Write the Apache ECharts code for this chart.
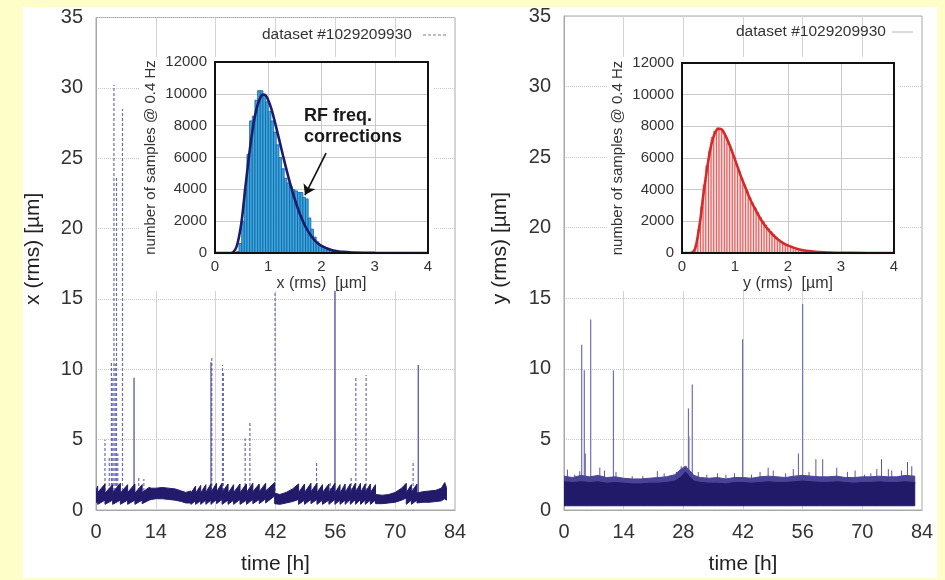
<!DOCTYPE html>
<html><head><meta charset="utf-8">
<script src="https://cdn.jsdelivr.net/npm/echarts/dist/echarts.min.js"></script>
<style>html,body{margin:0;padding:0;background:#fefec8;}#c{width:945px;height:580px;}</style>
</head><body><div id="c"></div>
<script>
// ---------- time series x (rms) : band envelope rows [time h, low, high] ----------
const xBand = [
[0.0,0.5,1.4],[0.4,0.65,1.7],[0.4,0.4,1.25],[2.1,0.7,1.85],[2.1,0.4,1.2],[3.9,0.7,1.8],[3.9,0.4,1.25],
[5.7,0.7,1.9],[5.7,0.4,1.2],[7.4,0.7,1.8],[7.4,0.4,1.25],[9.1,0.7,1.85],[9.1,0.4,1.2],[10.8,0.7,1.8],
[10.8,0.45,1.25],[12.4,0.7,1.6],[13.0,0.75,1.55],[14.0,0.8,1.55],[15.5,0.8,1.6],[17.0,0.75,1.55],[18.5,0.7,1.5],
[20.0,0.6,1.35],[21.0,0.5,1.25],[22.2,0.5,1.35],[22.2,0.4,1.2],[23.3,0.65,1.7],[23.3,0.4,1.2],[24.5,0.65,1.75],
[24.5,0.4,1.2],[25.7,0.7,1.8],[25.7,0.4,1.25],[26.9,0.7,1.85],[26.9,0.4,1.25],[28.2,0.75,1.9],[28.2,0.45,1.3],
[29.5,0.75,1.9],[29.5,0.4,1.25],[30.9,0.7,1.85],[30.9,0.4,1.2],[32.2,0.7,1.8],[32.2,0.4,1.25],[33.7,0.75,1.85],
[33.7,0.4,1.25],[35.2,0.7,1.85],[35.2,0.4,1.25],[36.7,0.75,1.9],[36.7,0.45,1.3],[38.2,0.75,1.85],[38.2,0.45,1.3],
[39.7,0.8,1.9],[39.7,0.5,1.35],[41.8,1.0,1.95],[41.8,0.45,1.2],[43.0,0.4,1.1],[44.5,0.5,1.25],[46.0,0.6,1.5],
[47.4,0.75,1.85],[47.4,0.4,1.25],[48.8,0.7,1.85],[48.8,0.4,1.25],[50.3,0.75,1.9],[50.3,0.45,1.3],[51.7,0.75,1.9],
[51.7,0.4,1.25],[53.0,0.7,1.8],[53.0,0.4,1.25],[54.5,0.7,1.85],[54.5,0.4,1.25],[55.9,0.75,1.9],[55.9,0.4,1.2],
[57.1,0.7,1.8],[57.1,0.4,1.2],[58.3,0.7,1.85],[58.3,0.4,1.25],[59.5,0.75,1.85],[59.5,0.4,1.25],[60.7,0.75,1.9],
[60.7,0.4,1.25],[61.9,0.75,1.9],[61.9,0.4,1.25],[63.0,0.7,1.85],[63.0,0.4,1.25],[64.2,0.7,1.85],[64.2,0.4,1.25],
[65.4,0.7,1.8],[65.4,0.45,1.1],[67.0,0.45,1.05],[68.5,0.5,1.1],[70.0,0.55,1.25],[71.5,0.7,1.55],[72.6,0.85,1.9],
[72.6,0.4,1.25],[73.8,0.7,1.8],[73.8,0.4,1.25],[75.1,0.7,1.85],[75.1,0.5,1.2],[76.5,0.55,1.3],[78.0,0.55,1.35],
[79.5,0.6,1.4],[80.8,0.65,1.55],[81.6,0.8,1.95],[82.0,0.7,1.6]
];
// spikes [time h, peak]
const xSpikesDotted = [[2.1,5.0],[3.1,3.7],[3.6,10.6],[3.8,9.5],[4.2,30.2],[4.5,10.4],[4.8,23.7],[5.1,4.0],[6.2,28.5],
[10.0,2.3],[11.2,2.2],[27.1,10.9],[29.6,10.3],[29.8,9.8],[34.9,5.1],[36.0,6.3],[41.9,22.0],[51.6,3.4],[54.8,2.0],
[59.7,2.4],[60.8,9.5],[63.2,9.6],[74.2,3.5]];
const xSpikesSolid = [[8.9,9.4],[26.9,10.5],[55.9,22.0],[75.4,10.3]];

// ---------- time series y (rms) ----------
const yBand = [
[0,0.3,2.0],[2,0.3,1.95],[4,0.3,2.0],[6,0.3,1.95],[8,0.3,2.0],[10,0.3,1.9],[12,0.3,1.95],[14,0.3,1.9],
[16,0.3,1.85],[18,0.3,1.85],[20,0.3,1.9],[22,0.3,1.9],[24,0.3,1.95],[26,0.3,2.05],[27.5,0.3,2.35],[28.5,0.3,2.7],
[29.5,0.3,2.35],[30.5,0.3,2.05],[32,0.3,1.95],[34,0.3,1.9],[36,0.3,1.9],[38,0.3,1.85],[40,0.3,1.95],[42,0.3,1.95],
[44,0.3,1.9],[46,0.3,1.95],[48,0.3,2.0],[50,0.3,1.95],[52,0.3,1.95],[54,0.3,2.0],[56,0.3,2.05],[58,0.3,2.0],
[60,0.3,1.95],[62,0.3,1.95],[64,0.3,2.0],[66,0.3,1.95],[68,0.3,1.9],[70,0.3,1.95],[72,0.3,1.95],[74,0.3,2.0],
[76,0.3,1.95],[78,0.3,1.95],[80,0.3,2.0],[82.3,0.3,1.95]
];
// sparse upper fringe of the y trace [time h, low, high]
const yFringe = [
[0,1.9,2.4],[2,1.85,2.3],[4,1.9,2.45],[6,1.85,2.35],[8,1.9,2.45],[10,1.8,2.3],[12,1.85,2.35],[14,1.8,2.25],
[16,1.75,2.2],[18,1.75,2.2],[20,1.8,2.25],[22,1.8,2.3],[24,1.85,2.35],[26,1.95,2.5],[27.5,2.25,2.9],[28.5,2.6,3.1],
[29.5,2.25,2.8],[30.5,1.95,2.45],[32,1.85,2.3],[34,1.8,2.25],[36,1.8,2.3],[38,1.75,2.2],[40,1.85,2.3],[42,1.85,2.3],
[44,1.8,2.25],[46,1.85,2.35],[48,1.9,2.4],[50,1.85,2.35],[52,1.85,2.3],[54,1.9,2.4],[56,1.95,2.45],[58,1.9,2.4],
[60,1.85,2.35],[62,1.85,2.35],[64,1.9,2.4],[66,1.85,2.3],[68,1.8,2.3],[70,1.85,2.35],[72,1.85,2.35],[74,1.9,2.4],
[76,1.85,2.35],[78,1.85,2.35],[80,1.9,2.45],[82.3,1.85,2.4]
];
const ySpikes = [[4.15,11.7],[4.77,9.9],[5.0,4.0],[6.26,13.5],[11.6,9.9],[29.2,7.2],[29.3,5.2],[30.1,8.9],[41.9,12.1],[56.0,14.6]];
const yWhiskers = [[0.8,2.86],[2.5,2.5],[3.7,2.75],[8.4,3.0],[9.5,2.8],[12.2,2.7],[16.0,2.4],[18.5,2.4],[21.9,2.75],
[23.5,2.6],[26.4,2.7],[27.5,3.1],[28.7,3.1],[31.5,2.7],[33.5,2.5],[36.0,2.6],[38.0,2.5],[40.0,2.6],[44.0,2.5],
[46.0,2.7],[47.9,3.0],[49.1,2.8],[52.0,2.6],[53.8,2.9],[55.0,4.0],[57.5,2.7],[59.1,3.6],[60.7,3.6],[64.0,3.0],
[66.5,2.7],[68.3,2.8],[70.5,2.5],[72.0,2.6],[73.4,2.9],[74.5,3.6],[76.1,2.9],[76.9,2.8],[79.2,2.8],[80.6,3.4],[81.6,3.1]];
const SPIKE_BASE = 1.0;

// ---------- histograms (bin width 0.05 um) ----------
const BIN = 0.05;
const xHistCenters = [0.425,0.475,0.525,0.575,0.625,0.675,0.725,0.775,0.825,0.875,0.925,0.975,1.025,1.075,1.125,1.175,
1.225,1.275,1.325,1.375,1.425,1.475,1.525,1.575,1.625,1.675,1.725,1.775,1.825,1.875,1.925,1.975,2.025,2.075,2.125,2.175,2.225,2.275,2.325];
const xHistCounts = [100,600,2000,4000,6200,8300,8600,9600,10200,10200,9900,9500,8900,8300,7600,6800,
6000,5300,4700,4400,4200,4000,3900,3800,3800,3500,3400,2200,1500,1000,700,500,380,280,200,140,100,70,50];
const xFitU = [0,0.3,0.35,0.4,0.45,0.5,0.55,0.6,0.65,0.7,0.75,0.8,0.85,0.9,0.95,1.0,1.05,1.1,1.2,1.3,1.4,1.5,1.6,1.7,1.8,1.9,2.0,2.2,2.4,2.6,3.0,3.5,4.0];
const xFitN = [0,0,80,350,1000,2000,3500,5000,6400,7600,8600,9300,9750,9950,9900,9600,9150,8550,7200,5800,4500,3350,2400,1650,1100,700,450,180,70,30,5,0,0];

const yHistCenters = [0.225,0.275,0.325,0.375,0.425,0.475,0.525,0.575,0.625,0.675,0.725,0.775,0.825,0.875,0.925,0.975,
1.025,1.075,1.125,1.175,1.225,1.275,1.325,1.375,1.425,1.475,1.525,1.575,1.625,1.675,1.725,1.775,1.825,1.875,1.925,1.975,
2.025,2.075,2.125,2.175,2.225,2.275,2.325,2.375,2.425,2.475,2.525,2.575,2.625,2.675,2.725,2.775,2.825,2.875,2.925,2.975];
const yHistCounts = [50,500,1500,2900,4300,5500,6400,7300,7700,7900,7800,7600,7300,6900,6500,6050,
5600,5150,4700,4300,3900,3500,3150,2850,2550,2250,2000,1750,1550,1350,1150,1000,850,730,620,520,
440,370,310,260,220,180,150,120,100,80,65,50,40,30,25,20,15,12,10,8];
const yFitU = [0,0.15,0.2,0.25,0.3,0.35,0.4,0.45,0.5,0.55,0.6,0.65,0.7,0.75,0.8,0.9,1.0,1.1,1.2,1.3,1.4,1.5,1.6,1.7,1.8,1.9,2.0,2.2,2.4,2.6,2.8,3.0,3.5,4.0];
const yFitN = [0,0,40,300,1100,2200,3600,4800,5900,6800,7400,7750,7850,7800,7550,6800,5900,4950,4100,3300,2650,2050,1580,1200,880,640,470,240,120,60,30,15,3,0];

// ---------- labels ----------
const legendText = 'dataset #1029209930';
const annotationText = 'RF freq.\ncorrections';

const FONT = '"Liberation Sans", Arial, Helvetica, sans-serif';

function bandSeries(rows, ai, color, z) {
  return {
    type: 'custom', xAxisIndex: ai, yAxisIndex: ai, z: z, silent: true, clip: true,
    data: rows, encode: {x: 0, y: [1, 2]},
    renderItem: function (params, api) {
      if (params.dataIndex !== 0) return null;
      const top = rows.map(r => api.coord([r[0], r[2]]));
      const bot = rows.slice().reverse().map(r => api.coord([r[0], r[1]]));
      return {type: 'polygon', shape: {points: top.concat(bot)}, style: {fill: color, stroke: color, lineWidth: 1}};
    }
  };
}
function spikeSeries(rows, ai, color, dash, width, z) {
  return {
    type: 'custom', xAxisIndex: ai, yAxisIndex: ai, z: z, silent: true, clip: true,
    data: rows, encode: {x: 0, y: 1},
    renderItem: function (params, api) {
      const a = api.coord([api.value(0), SPIKE_BASE]);
      const b = api.coord([api.value(0), api.value(1)]);
      return {type: 'line', shape: {x1: a[0], y1: a[1], x2: b[0], y2: b[1]},
        style: {stroke: color, lineWidth: width, lineDash: dash}};
    }
  };
}
function histSeries(centers, counts, ai, fill, stroke) {
  return {
    type: 'custom', xAxisIndex: ai, yAxisIndex: ai, z: 6, silent: true, clip: true,
    data: centers.map((c, i) => [c, counts[i]]), encode: {x: 0, y: 1},
    renderItem: function (params, api) {
      const c = api.value(0), v = api.value(1);
      const p0 = api.coord([c - BIN / 2, 0]);
      const p1 = api.coord([c + BIN / 2, v]);
      return {type: 'rect', shape: {x: p0[0], y: p1[1], width: p1[0] - p0[0], height: p0[1] - p1[1]},
        style: {fill: fill, stroke: stroke, lineWidth: 0.8}};
    }
  };
}
function fitSeries(u, n, ai, color, extra) {
  return Object.assign({
    type: 'line', xAxisIndex: ai, yAxisIndex: ai, z: 7, silent: true, smooth: 0.4,
    showSymbol: false, symbol: 'none', data: u.map((x, i) => [x, n[i]]),
    lineStyle: {color: color, width: 2.6}
  }, extra || {});
}
function mainX(gi, nameGap) {
  return {gridIndex: gi, type: 'value', min: 0, max: 84, interval: 14, z: 0,
    name: 'time [h]', nameLocation: 'middle', nameGap: nameGap,
    nameTextStyle: {fontFamily: FONT, fontSize: 21, color: '#222'},
    axisLine: {show: true, lineStyle: {color: '#a8a8a8'}}, axisTick: {show: false},
    axisLabel: {fontFamily: FONT, fontSize: 20, color: '#333', margin: 12},
    splitLine: {show: true, lineStyle: {color: '#d4d4d4', width: 1}}};
}
function mainY(gi, name, nameGap) {
  return {gridIndex: gi, type: 'value', min: 0, max: 35, interval: 5, z: 0,
    name: name, nameLocation: 'middle', nameGap: nameGap,
    nameTextStyle: {fontFamily: FONT, fontSize: 21, color: '#222', padding: [0, 0, 0, 30]},
    axisLine: {show: true, lineStyle: {color: '#a8a8a8'}}, axisTick: {show: false},
    axisLabel: {fontFamily: FONT, fontSize: 20, color: '#333', margin: 13},
    splitLine: {show: true, lineStyle: {color: '#c8c8c8', type: 'dotted', width: 1}}};
}
function insetX(gi, name) {
  return {gridIndex: gi, type: 'value', min: 0, max: 4, interval: 1, z: 5,
    name: name, nameLocation: 'middle', nameGap: 23,
    nameTextStyle: {fontFamily: FONT, fontSize: 16, color: '#333'},
    axisLine: {show: false}, axisTick: {show: false},
    axisLabel: {fontFamily: FONT, fontSize: 15, color: '#333', margin: 6},
    splitLine: {show: true, lineStyle: {color: '#cacaca', width: 1}}};
}
function insetY(gi) {
  return {gridIndex: gi, type: 'value', min: 0, max: 12000, interval: 2000, z: 5,
    name: 'number of samples @ 0.4 Hz', nameLocation: 'middle', nameGap: 57,
    nameTextStyle: {fontFamily: FONT, fontSize: 15, color: '#333'},
    axisLine: {show: false}, axisTick: {show: false},
    axisLabel: {fontFamily: FONT, fontSize: 15, color: '#333', margin: 8, formatter: function (v) { return String(v); }},
    splitLine: {show: true, lineStyle: {color: '#cacaca', width: 1}}};
}

const chart = echarts.init(document.getElementById('c'), null, {renderer: 'canvas'});
chart.setOption({
  animation: false,
  backgroundColor: '#fefec8',
  grid: [
    {left: 96, top: 17.5, width: 359, height: 494.5, show: true, borderColor: '#a8a8a8', borderWidth: 1, z: 0},
    {left: 564, top: 16, width: 358, height: 496, show: true, borderColor: '#a8a8a8', borderWidth: 1, z: 0},
    {left: 215, top: 62, width: 213, height: 191, show: true, borderColor: '#111', borderWidth: 2, z: 8},
    {left: 682, top: 63, width: 212, height: 190, show: true, borderColor: '#111', borderWidth: 2, z: 8}
  ],
  xAxis: [mainX(0, 44), mainX(1, 44), insetX(2, 'x (rms)  [µm]'), insetX(3, 'y (rms)  [µm]')],
  yAxis: [mainY(0, 'x (rms) [µm]', 52), mainY(1, 'y (rms) [µm]', 53), insetY(2), insetY(3)],
  series: [
    spikeSeries(xSpikesDotted, 0, '#6a6ab4', [3, 2], 1.2, 2),
    spikeSeries(xSpikesSolid, 0, '#4a4a9e', null, 1.2, 2),
    bandSeries(xBand, 0, '#221b6c', 3),
    spikeSeries(ySpikes, 1, '#6f6fb8', null, 1.2, 2),
    spikeSeries(yWhiskers, 1, '#5a54a8', null, 1, 2),
    bandSeries(yFringe, 1, '#4a4496', 3),
    bandSeries(yBand, 1, '#201a68', 3),
    histSeries(xHistCenters, xHistCounts, 2, '#38a9df', '#16609f'),
    fitSeries(xFitU, xFitN, 2, '#1d1b6b', {
      markLine: {silent: true, symbol: ['none', 'arrow'], symbolSize: 10, animation: false,
        lineStyle: {color: '#111', width: 1.6, type: 'solid'}, label: {show: false},
        data: [[{coord: [2.085, 6280]}, {coord: [1.69, 3640]}]]}
    }),
    histSeries(yHistCenters, yHistCounts, 3, '#f8dcdc', '#e04a4a'),
    fitSeries(yFitU, yFitN, 3, '#d42a2a')
  ]
});
const ap = chart.convertToPixel({gridIndex: 2}, [1.67, 7950]);
chart.setOption({graphic: [
  {type: 'rect', z: -1, silent: true, shape: {x: 23, y: 7, width: 914, height: 571}, style: {fill: '#ffffff'}},
  {type: 'rect', z: 4, silent: true, shape: {x: 140, y: 57, width: 293, height: 234}, style: {fill: '#ffffff'}},
  {type: 'rect', z: 4, silent: true, shape: {x: 607, y: 57, width: 293, height: 234}, style: {fill: '#ffffff'}},
  {type: 'text', z: 3, silent: true, x: 262, y: 35, style: {text: legendText, fontFamily: FONT, fontSize: 15.5, fill: '#333', verticalAlign: 'middle'}},
  {type: 'line', z: 3, silent: true, shape: {x1: 423, y1: 35, x2: 447, y2: 35}, style: {stroke: '#7474b4', lineWidth: 1, lineDash: [3, 2]}},
  {type: 'text', z: 3, silent: true, x: 736, y: 32, style: {text: legendText, fontFamily: FONT, fontSize: 15.5, fill: '#333', verticalAlign: 'middle'}},
  {type: 'line', z: 3, silent: true, shape: {x1: 892, y1: 32, x2: 913, y2: 32}, style: {stroke: '#b4b4c8', lineWidth: 1}},
  {type: 'text', z: 9, silent: true, x: ap[0], y: ap[1], style: {text: annotationText, fontFamily: FONT, fontSize: 18, fontWeight: 'bold', fill: '#1a1a1a', verticalAlign: 'middle', lineHeight: 21}}
]});
</script>
</body></html>
